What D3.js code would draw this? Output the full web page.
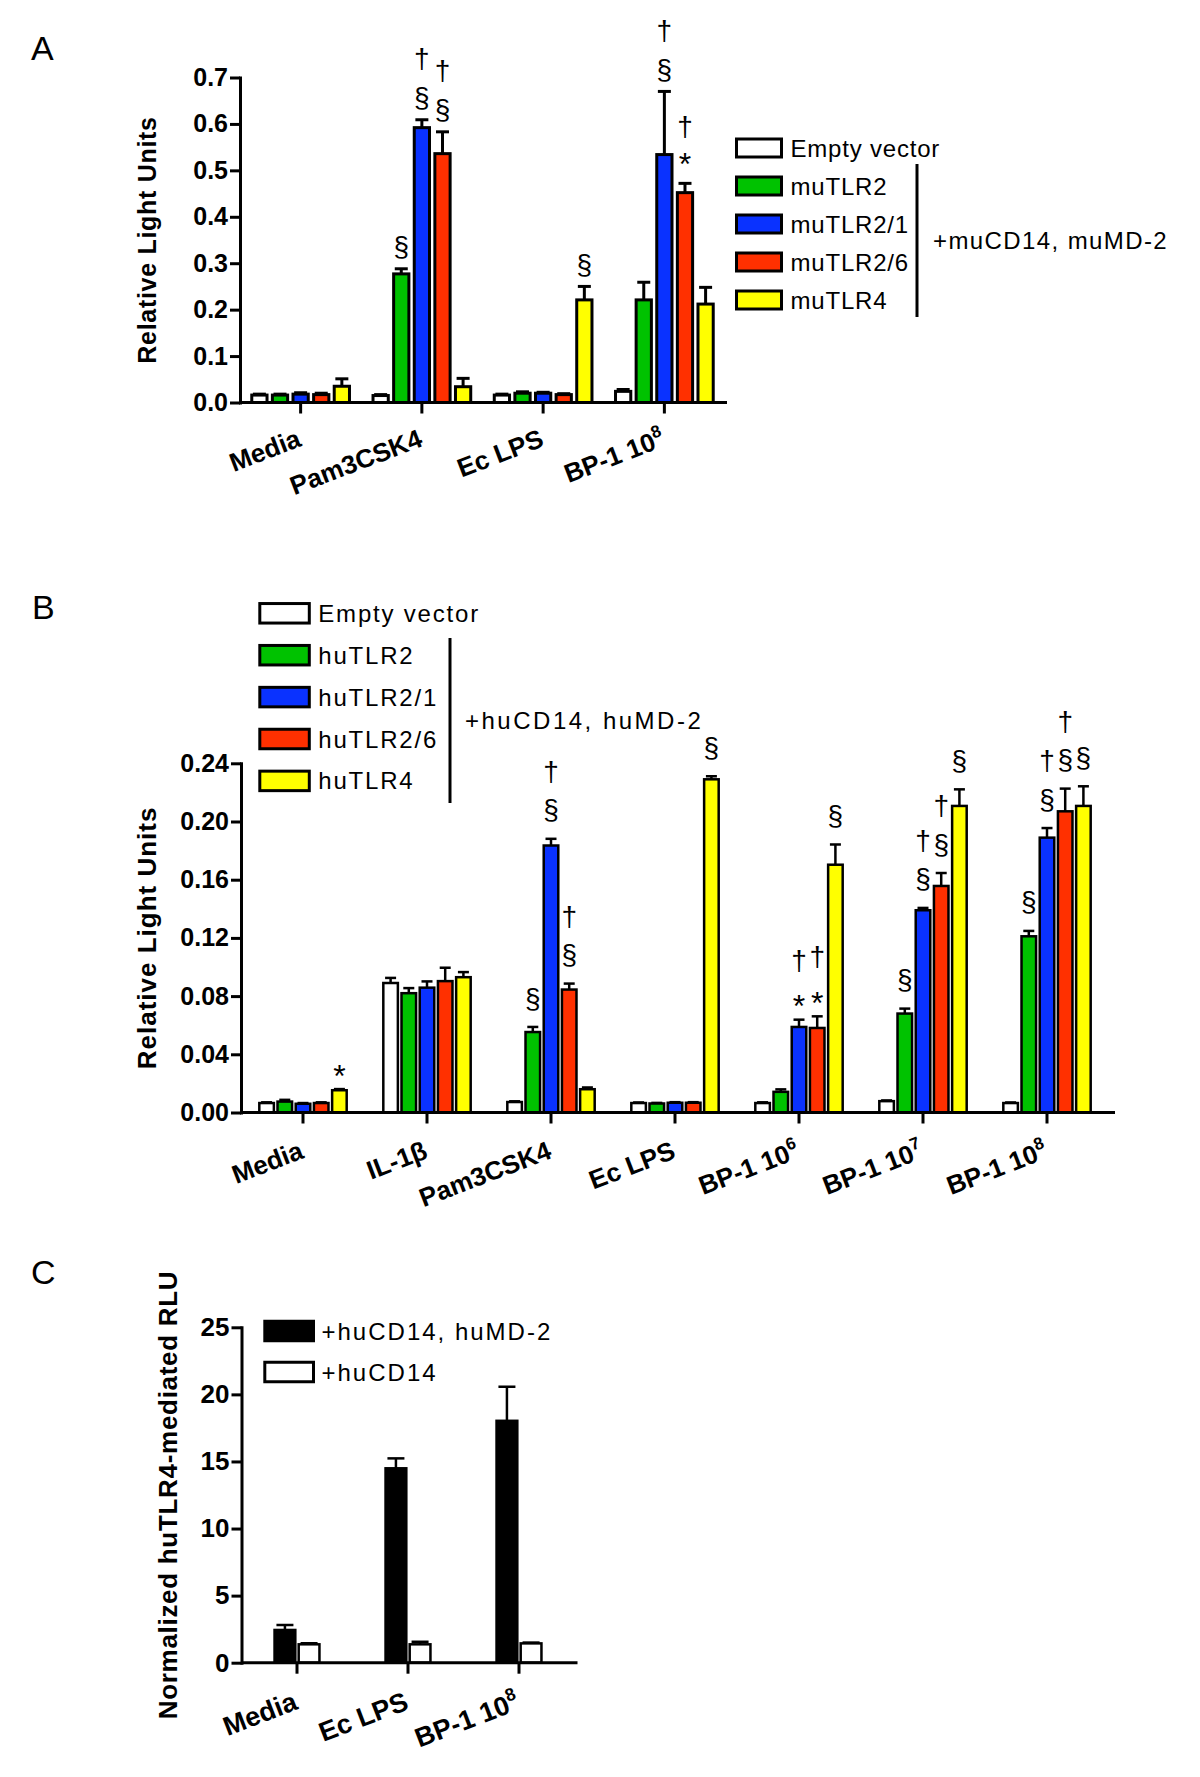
<!DOCTYPE html>
<html><head><meta charset="utf-8">
<script src="https://cdn.jsdelivr.net/npm/d3@7"></script>
<style>
body{margin:0;background:#fff}
svg{display:block}
text{font-family:"Liberation Sans",Arial,Helvetica,sans-serif}
</style>
</head><body>
<svg id="chart" width="1200" height="1777"></svg>
<script>
// ---------------- DATA ----------------
// Panel A
const categoriesA = ["Media", "Pam3CSK4", "Ec LPS", "BP-1 10"];
const superA = ["", "", "", "8"];
const seriesA = ["Empty vector", "muTLR2", "muTLR2/1", "muTLR2/6", "muTLR4"];
const valuesA = [
  [0.016, 0.016, 0.018, 0.017, 0.035],
  [0.015, 0.277, 0.592, 0.536, 0.034],
  [0.016, 0.020, 0.020, 0.017, 0.221],
  [0.024, 0.221, 0.534, 0.452, 0.212]
];
const errorsA = [
  [0.002, 0.002, 0.003, 0.003, 0.016],
  [0.002, 0.011, 0.017, 0.047, 0.018],
  [0.002, 0.003, 0.002, 0.002, 0.029],
  [0.004, 0.038, 0.136, 0.020, 0.036]
];
const ticksA = [0, 0.1, 0.2, 0.3, 0.4, 0.5, 0.6, 0.7];
const groupLabelA = "+muCD14, muMD-2";
const marksA = [[1, 1, "§"], [1, 2, "§†"], [1, 3, "§†"], [2, 4, "§"], [3, 2, "§†"], [3, 3, "*†"]];

// Panel B
const categoriesB = ["Media", "IL-1β", "Pam3CSK4", "Ec LPS", "BP-1 10", "BP-1 10", "BP-1 10"];
const superB = ["", "", "", "", "6", "7", "8"];
const seriesB = ["Empty vector", "huTLR2", "huTLR2/1", "huTLR2/6", "huTLR4"];
const valuesB = [
  [0.0065, 0.0075, 0.0060, 0.0065, 0.0153],
  [0.0890, 0.0820, 0.0858, 0.0903, 0.0930],
  [0.0072, 0.0553, 0.1835, 0.0845, 0.0160],
  [0.0065, 0.0062, 0.0067, 0.0067, 0.2290],
  [0.0065, 0.0142, 0.0588, 0.0581, 0.1703],
  [0.0078, 0.0680, 0.1390, 0.1557, 0.2107],
  [0.0065, 0.1211, 0.1889, 0.2070, 0.2107]
];
const errorsB = [
  [0.0005, 0.0012, 0.0005, 0.0005, 0.0008],
  [0.0035, 0.0035, 0.0043, 0.0092, 0.0035],
  [0.0005, 0.0035, 0.0046, 0.0041, 0.0012],
  [0.0004, 0.0004, 0.0004, 0.0004, 0.0021],
  [0.0005, 0.0017, 0.0050, 0.0080, 0.0139],
  [0.0005, 0.0034, 0.0016, 0.0089, 0.0114],
  [0.0004, 0.0037, 0.0066, 0.0156, 0.0135]
];
const ticksB = [0, 0.04, 0.08, 0.12, 0.16, 0.20, 0.24];
const groupLabelB = "+huCD14, huMD-2";
const marksB = [[0, 4, "*"], [2, 1, "§"], [2, 2, "§†"], [2, 3, "§†"], [3, 4, "§"],
  [4, 2, "*†"], [4, 3, "*†"], [4, 4, "§"],
  [5, 1, "§"], [5, 2, "§†"], [5, 3, "§†"], [5, 4, "§"],
  [6, 1, "§"], [6, 2, "§†"], [6, 3, "§†"], [6, 4, "§"]];

// Panel C
const categoriesC = ["Media", "Ec LPS", "BP-1 10"];
const superC = ["", "", "8"];
const seriesC = ["+huCD14, huMD-2", "+huCD14"];
const valuesC = [
  [2.44, 1.37],
  [14.49, 1.37],
  [18.03, 1.44]
];
const errorsC = [
  [0.37, 0.08],
  [0.74, 0.19],
  [2.54, 0.06]
];
const ticksC = [0, 5, 10, 15, 20, 25];

const colors5 = ["#ffffff", "#00c200", "#0a32ff", "#ff3000", "#ffff00"];
const colors2 = ["#000000", "#ffffff"];

// ---------------- DRAW ----------------
const svg = d3.select("#chart");

function drawPanel(o) {
  const g = svg.append("g");
  const x0 = d3.scaleBand().domain(d3.range(o.cats.length)).range(o.xr)
    .paddingInner(o.pOuter).paddingOuter(o.pOuter / 2);
  const x1 = d3.scaleBand().domain(d3.range(o.series.length)).range([0, x0.bandwidth()])
    .paddingInner(o.pInner).paddingOuter(o.pInner / 2);
  const y = d3.scaleLinear().domain([0, o.ymax]).range(o.yr);

  const flat = [];
  o.values.forEach((row, i) => row.forEach((v, j) => flat.push({ i, j, v, e: o.errors[i][j] })));

  // bars
  g.selectAll("rect.bar").data(flat).join("rect")
    .attr("x", d => x0(d.i) + x1(d.j))
    .attr("y", d => y(d.v))
    .attr("width", x1.bandwidth())
    .attr("height", d => y(0) - y(d.v))
    .attr("fill", d => o.colors[d.j])
    .attr("stroke", "#000").attr("stroke-width", o.sw);

  // error bars
  const eg = g.append("g").attr("stroke", "#000").attr("stroke-width", o.ew);
  flat.forEach(d => {
    const cx = x0(d.i) + x1(d.j) + x1.bandwidth() / 2;
    eg.append("line").attr("x1", cx).attr("x2", cx).attr("y1", y(d.v)).attr("y2", y(d.v + d.e));
    eg.append("line").attr("x1", cx - o.cap / 2).attr("x2", cx + o.cap / 2)
      .attr("y1", y(d.v + d.e)).attr("y2", y(d.v + d.e));
  });

  // axes
  const ya = g.append("g").attr("transform", `translate(${o.xr[0]},0)`)
    .call(d3.axisLeft(y).tickValues(o.ticks).tickFormat(o.fmt).tickSize(10).tickSizeOuter(0).tickPadding(2));
  ya.select(".domain").attr("stroke-width", 3).attr("stroke-linecap", "square");
  ya.selectAll(".tick line").attr("stroke-width", 3);
  ya.selectAll(".tick text").attr("font-size", o.tickFs).attr("font-weight", "bold")
    .attr("fill", "#000").style("font-family", '"Liberation Sans",Arial,sans-serif');

  const xa = g.append("g").attr("transform", `translate(0,${o.yr[0]})`)
    .call(d3.axisBottom(x0).tickSize(11).tickSizeOuter(0).tickFormat(""));
  xa.select(".domain").attr("stroke-width", 3).attr("d", `M${o.xr[0]},0H${o.xr[1] + o.xExt}`);
  xa.selectAll(".tick line").attr("stroke-width", 3);

  // category labels
  o.cats.forEach((c, i) => {
    const cx = x0(i) + x0.bandwidth() / 2 + 2;
    const t = g.append("text")
      .attr("transform", `translate(${cx},${o.yr[0] + o.labOff}) rotate(${o.rot})`)
      .attr("text-anchor", "end").attr("font-size", o.catFs).attr("font-weight", "bold");
    t.append("tspan").text(c);
    if (o.sup[i]) t.append("tspan").attr("dy", -11).attr("font-size", o.catFs * 0.66).text(o.sup[i]);
  });

  // y title
  g.append("text")
    .attr("transform", `translate(${o.titleX},${(o.yr[0] + o.yr[1]) / 2 + o.titleDy}) rotate(-90)`)
    .attr("text-anchor", "middle").attr("font-size", o.titleFs).attr("font-weight", "bold")
    .attr("letter-spacing", o.titleLs).text(o.title);

  // significance marks
  if (o.marks) {
    const shift = { "§": 0.27, "†": 0.29, "*": 0.58 };
    o.marks.forEach(([i, j, s]) => {
      const cx = x0(i) + x1(j) + x1.bandwidth() / 2;
      let c = y(o.values[i][j] + o.errors[i][j]) - o.firstOff[s[0]];
      [...s].forEach((ch, k) => {
        if (k > 0) c -= o.step[s[k - 1]];
        const fs = ch === "*" ? o.markFs + 4 : o.markFs;
        g.append("text").attr("x", cx).attr("y", c + shift[ch] * fs)
          .attr("text-anchor", "middle").attr("font-size", fs).text(ch);
      });
    });
  }

  // legend
  const L = o.legend;
  o.series.forEach((s, j) => {
    const cy = L.y + j * L.dy;
    g.append("rect").attr("x", L.x).attr("y", cy - L.h / 2).attr("width", L.w).attr("height", L.h)
      .attr("fill", o.colors[j]).attr("stroke", "#000").attr("stroke-width", 3);
    g.append("text").attr("x", L.x + L.w + L.gap).attr("y", cy + 8.5)
      .attr("font-size", 24).attr("letter-spacing", L.ls).text(s);
  });
  if (o.group) {
    g.append("line").attr("x1", o.group.x).attr("x2", o.group.x)
      .attr("y1", o.group.y1).attr("y2", o.group.y2).attr("stroke", "#000").attr("stroke-width", 3);
    g.append("text").attr("x", o.group.x + o.group.gap).attr("y", (o.group.y1 + o.group.y2) / 2 + 8.5)
      .attr("font-size", 24).attr("letter-spacing", o.group.ls).text(o.group.label);
  }

  // panel letter
  g.append("text").attr("x", o.letter[0]).attr("y", o.letter[1]).attr("font-size", 34).text(o.letter[2]);
}

drawPanel({
  cats: categoriesA, sup: superA, series: seriesA, values: valuesA, errors: errorsA, colors: colors5,
  ticks: ticksA, fmt: d3.format(".1f"), ymax: 0.7,
  xr: [240, 725], yr: [402.5, 77.5], xExt: 2, pOuter: 0.15, pInner: 0.26,
  sw: 3, ew: 3, cap: 13, tickFs: 25, catFs: 26, labOff: 43, rot: -21,
  title: "Relative Light Units", titleX: 156, titleDy: 0, titleFs: 25, titleLs: 0.7,
  marks: marksA, markFs: 28, firstOff: { "§": 20, "†": 20, "*": 27 }, step: { "§": 40, "†": 38, "*": 28 },
  legend: { x: 736.5, y: 148, dy: 38, w: 45, h: 18, gap: 9, ls: 0.8 },
  group: { x: 917, y1: 164, y2: 317, gap: 16, ls: 1.4, label: groupLabelA },
  letter: [31, 60, "A"]
});

drawPanel({
  cats: categoriesB, sup: superB, series: seriesB, values: valuesB, errors: errorsB, colors: colors5,
  ticks: ticksB, fmt: d3.format(".2f"), ymax: 0.24,
  xr: [241, 1109], yr: [1112.5, 763.3], xExt: 6, pOuter: 0.266, pInner: 0.2,
  sw: 2.5, ew: 2.5, cap: 11, tickFs: 25, catFs: 26, labOff: 45, rot: -21,
  title: "Relative Light Units", titleX: 155.5, titleDy: 0, titleFs: 26, titleLs: 1,
  marks: marksB, markFs: 28, firstOff: { "§": 27, "†": 27, "*": 21 }, step: { "§": 39, "†": 38, "*": 37 },
  legend: { x: 259.8, y: 613.3, dy: 41.9, w: 49.5, h: 19.5, gap: 9, ls: 1.8 },
  group: { x: 450, y1: 638, y2: 803, gap: 15, ls: 2.5, label: groupLabelB },
  letter: [32, 619, "B"]
});

drawPanel({
  cats: categoriesC, sup: superC, series: seriesC, values: valuesC, errors: errorsC, colors: colors2,
  ticks: ticksC, fmt: d3.format("d"), ymax: 25,
  xr: [241.5, 574.5], yr: [1662.7, 1327.3], xExt: 3, pOuter: 0.565, pInner: 0.14,
  sw: 2.5, ew: 2.5, cap: 17, tickFs: 26, catFs: 27, labOff: 46, rot: -21,
  title: "Normalized huTLR4-mediated RLU", titleX: 177, titleDy: 0, titleFs: 26, titleLs: 0.7,
  marks: null,
  legend: { x: 264.8, y: 1331, dy: 41, w: 48.7, h: 19.5, gap: 8, ls: 2 },
  group: null,
  letter: [31, 1284, "C"]
});
</script>
</body></html>
